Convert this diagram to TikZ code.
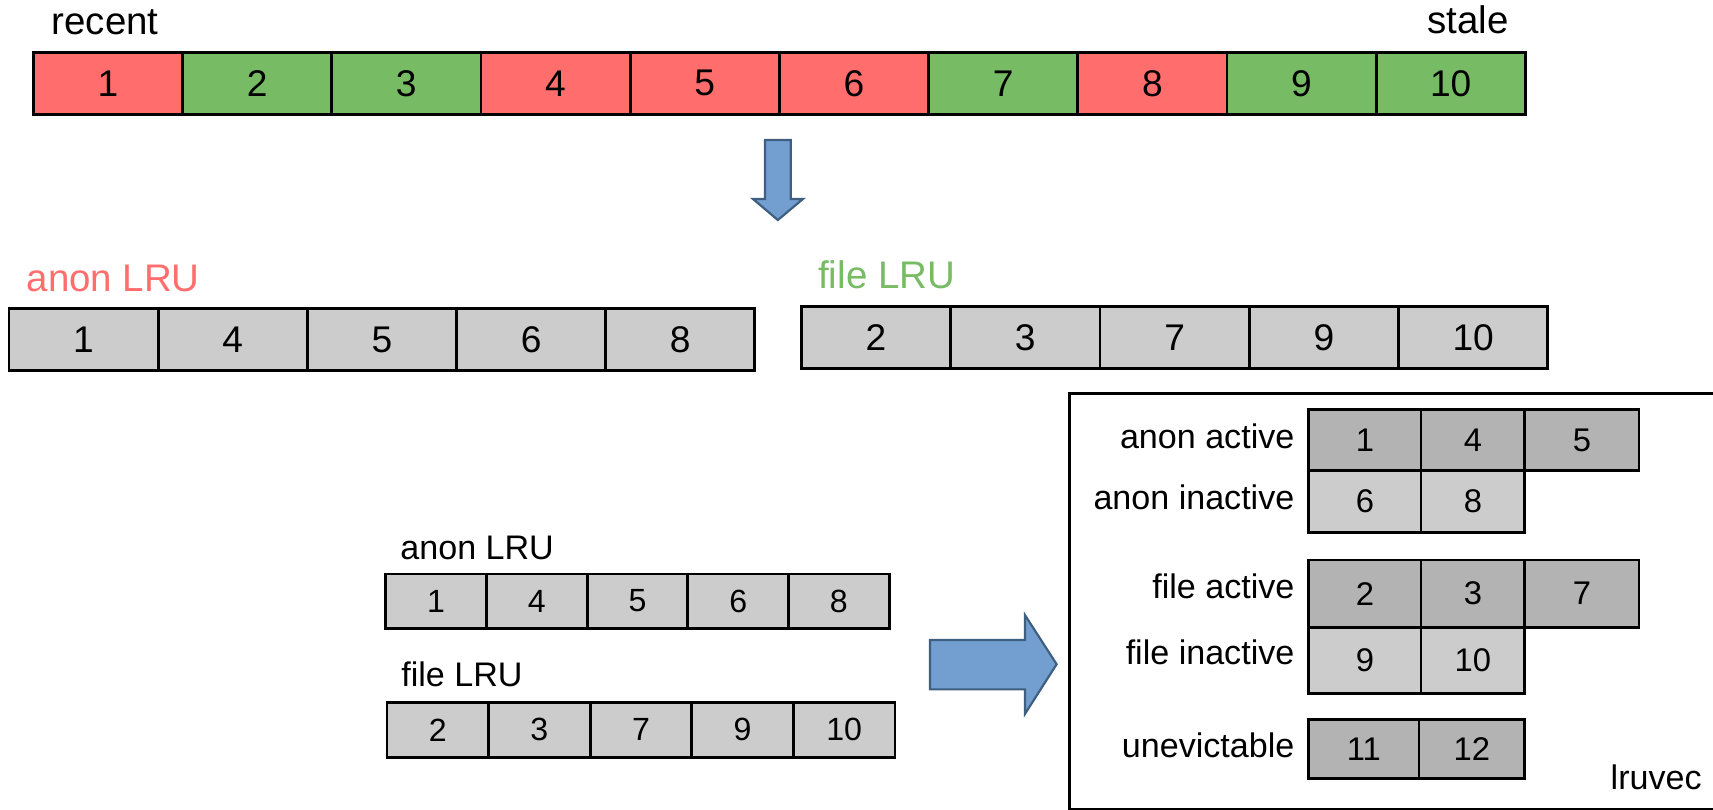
\documentclass[tikz,border=0pt]{standalone}
\usepackage{fontspec}
\setmainfont{Liberation Sans}
\definecolor{anonred}{HTML}{FF6D6D}
\definecolor{filegreen}{HTML}{77BC65}
\definecolor{lightgray}{HTML}{CCCCCC}
\definecolor{darkgray}{HTML}{B3B3B3}
\definecolor{arrowfill}{HTML}{729FCF}
\definecolor{arrowline}{HTML}{3F5F80}

% one cell of a list: top-left and bottom-right corners (in drawing units), fill, text
\newcommand\cellat[7]{%
  \node[cellbox, fill=#6, minimum width={(#4-#2)*0.5pt}, minimum height={(#5-#3)*0.5pt}] (#1) at (#2,#3) {#7};}

\begin{document}
\begin{tikzpicture}[x=0.5pt, y=-0.5pt,
  cellbox/.style={draw=black, line width=1.3pt, rectangle, inner sep=0pt, outer sep=0pt, anchor=north west},
  bigtxt/.style={font=\fontsize{17.6pt}{20pt}\selectfont},
  midtxt/.style={font=\fontsize{15.6pt}{18pt}\selectfont},
  bigdigit/.style={font=\fontsize{17pt}{20pt}\selectfont},
  middigit/.style={font=\fontsize{15pt}{18pt}\selectfont},
  smalldigit/.style={font=\fontsize{14.7pt}{17pt}\selectfont},
  lbl/.style={inner sep=0pt, outer sep=0pt},
  fatarrow/.style={draw=arrowline, fill=arrowfill, line width=1pt, line join=miter}]
\useasboundingbox (0,0) rectangle (1568,741);
\begin{scope}
\clip (0,0) rectangle (1568,741);

% ---- all pages, most recent first ----
\node[lbl, bigtxt, anchor=base west] (recent) at (47.3,32) {recent};
\node[lbl, bigtxt, anchor=base east] (stale) at (1380.8,31) {stale};
\foreach \n/\c [count=\i from 0] in {1/anonred,2/filegreen,3/filegreen,4/anonred,5/anonred,
                                      6/anonred,7/filegreen,8/anonred,9/filegreen,10/filegreen}
  \node[cellbox, bigdigit, fill=\c, minimum width={136.57*0.5pt}, minimum height={56.7*0.5pt}]
    (t\n) at ({30.5+136.57*\i},47.9) {\n};

% split arrow
\draw[fatarrow] (700.2,128.1) -- (723.8,128.1) -- (723.8,182.1) -- (735,182.1) -- (712,201.4)
  -- (689.2,182.1) -- (700.2,182.1) -- cycle;

% ---- separate anon and file lists ----
\node[lbl, bigtxt, anchor=base west, text=anonred] (anonlbl) at (24.4,267) {anon LRU};
\foreach \n [count=\i from 0] in {1,4,5,6,8}
  \node[cellbox, bigdigit, fill=lightgray, minimum width={136.56*0.5pt}, minimum height={57.1*0.5pt}]
    (a\n) at ({8.2+136.56*\i},282.2) {\n};

\node[lbl, bigtxt, anchor=base west, text=filegreen] (filelbl) at (749,264) {file LRU};
\foreach \n [count=\i from 0] in {2,3,7,9,10}
  \node[cellbox, bigdigit, fill=lightgray, minimum width={136.66*0.5pt}, minimum height={56.5*0.5pt}]
    (f\n) at ({733.5+136.66*\i},280.7) {\n};

% ---- small copies of the two lists ----
\node[lbl, midtxt, anchor=base west] (sanonlbl) at (366.5,512) {anon LRU};
\foreach \n [count=\i from 0] in {1,4,5,6,8}
  \node[cellbox, smalldigit, fill=lightgray, minimum width={92.2*0.5pt}, minimum height={49.6*0.5pt}]
    (sa\n) at ({353+92.2*\i},525.4) {\n};

\node[lbl, midtxt, anchor=base west] (sfilelbl) at (367.4,628.5) {file LRU};
\foreach \n [count=\i from 0] in {2,3,7,9,10}
  \node[cellbox, smalldigit, fill=lightgray, minimum width={93*0.5pt}, minimum height={50*0.5pt}]
    (sf\n) at ({354.2+93*\i},643) {\n};

% arrow into the lruvec
\draw[fatarrow] (851.3,585.8) -- (938.2,585.8) -- (938.2,563) -- (967.2,608) -- (938.2,653.5)
  -- (938.2,631) -- (851.3,631) -- cycle;

% ---- lruvec ----
\draw[line width=1.4pt] (978.8,360) rectangle (1620,740.6);
\node[lbl, midtxt, anchor=base east] (lruvec) at (1557.6,722.5) {lruvec};

\node[lbl, midtxt, anchor=base east] (aalbl) at (1184.8,410.4) {anon active};
\node[lbl, midtxt, anchor=base east] (ailbl) at (1184.8,466.2) {anon inactive};
\node[lbl, midtxt, anchor=base east] (falbl) at (1184.8,547.7) {file active};
\node[lbl, midtxt, anchor=base east] (fiilbl) at (1184.8,608) {file inactive};
\node[lbl, midtxt, anchor=base east] (unlbl) at (1184.8,693.5) {unevictable};

\tikzset{every node/.append style={middigit}}
\cellat{aa1}{1198}{374.7}{1300.7}{430.8}{darkgray}{1}
\cellat{aa4}{1300.7}{374.7}{1395.7}{430.8}{darkgray}{4}
\cellat{aa5}{1395.7}{374.7}{1500.2}{430.8}{darkgray}{5}
\cellat{ai6}{1198}{430.8}{1300.7}{487.6}{lightgray}{6}
\cellat{ai8}{1300.7}{430.8}{1395.7}{487.6}{lightgray}{8}

\cellat{fa2}{1198}{512.6}{1300.7}{574.2}{darkgray}{2}
\cellat{fa3}{1300.7}{512.6}{1395.7}{574.2}{darkgray}{3}
\cellat{fa7}{1395.7}{512.6}{1500.2}{574.2}{darkgray}{7}
\cellat{fi9}{1198}{574.2}{1300.7}{634.6}{lightgray}{9}
\cellat{fi10}{1300.7}{574.2}{1395.7}{634.6}{lightgray}{10}

\cellat{un11}{1198}{658.4}{1298.8}{712.4}{darkgray}{11}
\cellat{un12}{1298.8}{658.4}{1395.7}{712.4}{darkgray}{12}
\end{scope}
\end{tikzpicture}
\end{document}
